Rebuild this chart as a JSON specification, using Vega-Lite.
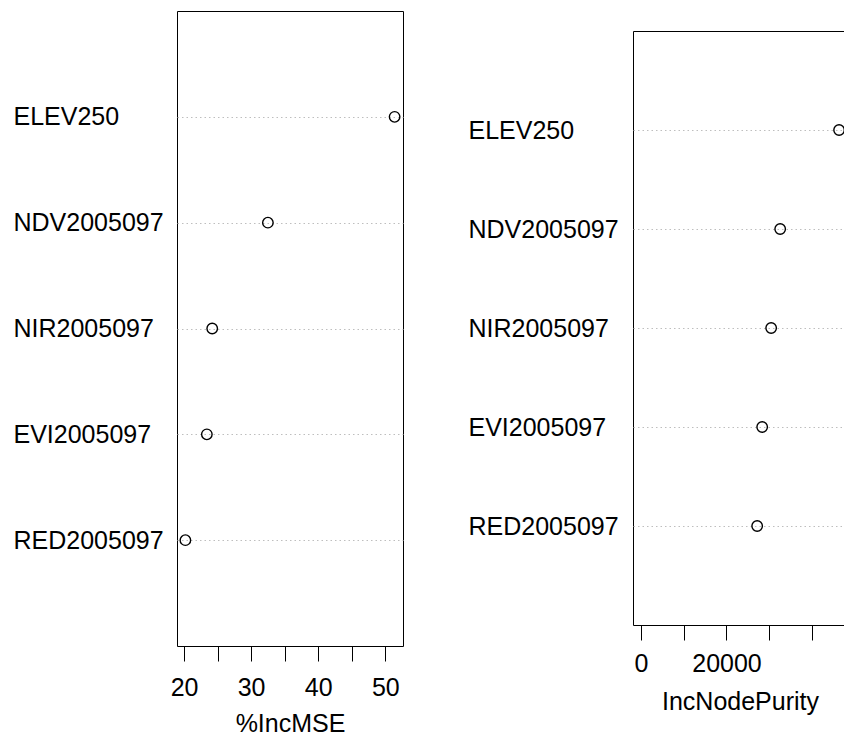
{
  "$schema": "https://vega.github.io/schema/vega-lite/v6.json",
  "padding": {"left": 12, "top": 10, "right": 0, "bottom": 0},
  "background": "white",
  "datasets": {
    "imp": [
      {"var": "ELEV250", "IncMSE": 51.39, "IncNodePurity": 46316},
      {"var": "NDV2005097", "IncMSE": 32.5, "IncNodePurity": 32550},
      {"var": "NIR2005097", "IncMSE": 24.2, "IncNodePurity": 30440},
      {"var": "EVI2005097", "IncMSE": 23.4, "IncNodePurity": 28340},
      {"var": "RED2005097", "IncMSE": 20.2, "IncNodePurity": 27170}
    ]
  },
  "config": {
    "font": "Liberation Sans",
    "view": {"stroke": "black", "strokeWidth": 1},
    "axis": {
      "labelFont": "Liberation Sans",
      "titleFont": "Liberation Sans",
      "labelFontSize": 25,
      "titleFontSize": 25,
      "titleFontWeight": "normal",
      "labelColor": "black",
      "titleColor": "black",
      "tickColor": "black",
      "domain": false
    }
  },
  "spacing": 63,
  "hconcat": [
    {
      "width": 226,
      "height": 635,
      "data": {"name": "imp"},
      "mark": {"type": "point", "shape": "circle", "filled": false, "stroke": "black", "strokeWidth": 1.4, "size": 110, "opacity": 1},
      "encoding": {
        "x": {
          "field": "IncMSE", "type": "quantitative",
          "scale": {"domain": [18.95, 52.64], "nice": false, "zero": false},
          "axis": {"values": [20, 25, 30, 35, 40, 45, 50], "labelExpr": "datum.value % 10 == 0 ? datum.label : ''", "tickSize": 15, "labelPadding": 14, "grid": false, "title": "%IncMSE", "titlePadding": 11, "labelFlush": false}
        },
        "y": {
          "field": "var", "type": "nominal",
          "sort": ["ELEV250", "NDV2005097", "NIR2005097", "EVI2005097", "RED2005097"],
          "scale": {"type": "point", "padding": 1},
          "axis": {"title": null, "ticks": false, "tickSize": 0, "labelAlign": "left", "labelPadding": 164, "labelBaseline": "middle", "grid": true, "gridColor": "#bebebe", "gridDash": [1.5, 3], "gridWidth": 1}
        }
      }
    },
    {
      "spacing": 18,
      "vconcat": [
        {
          "width": 10,
          "height": 1,
          "data": {"values": []},
          "mark": "point",
          "view": {"stroke": null}
        },
        {
          "width": 214,
          "height": 594,
          "data": {"name": "imp"},
          "mark": {"type": "point", "shape": "circle", "filled": false, "stroke": "black", "strokeWidth": 1.4, "size": 110, "opacity": 1},
          "encoding": {
            "x": {
              "field": "IncNodePurity", "type": "quantitative",
              "scale": {"domain": [-1853, 48169], "nice": false, "zero": false},
              "axis": {"values": [0, 10000, 20000, 30000, 40000], "format": "d", "labelExpr": "datum.value == 0 || datum.value == 20000 ? datum.label : ''", "tickSize": 15, "labelPadding": 11, "grid": false, "title": "IncNodePurity", "titlePadding": 13, "labelFlush": false}
            },
            "y": {
              "field": "var", "type": "nominal",
              "sort": ["ELEV250", "NDV2005097", "NIR2005097", "EVI2005097", "RED2005097"],
              "scale": {"type": "point", "padding": 1},
              "axis": {"title": null, "ticks": false, "tickSize": 0, "labelAlign": "left", "labelPadding": 165, "labelBaseline": "middle", "grid": true, "gridColor": "#bebebe", "gridDash": [1.5, 3], "gridWidth": 1}
            }
          }
        }
      ]
    }
  ]
}
